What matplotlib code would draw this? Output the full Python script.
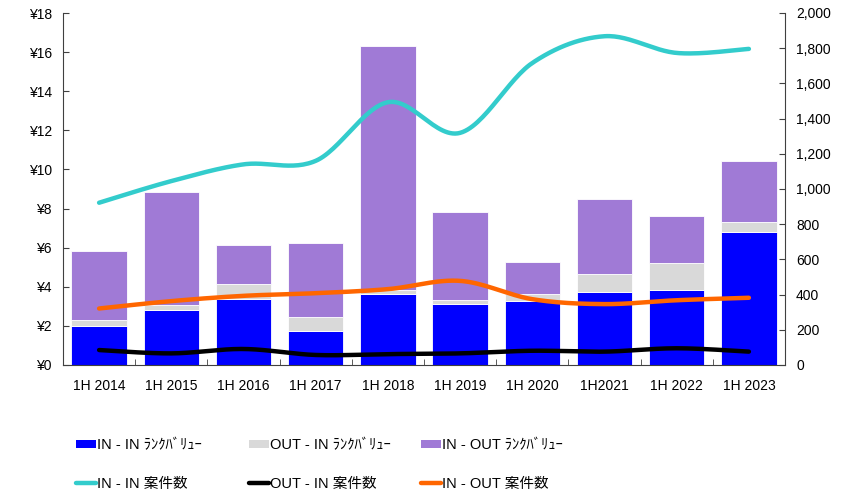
import matplotlib
matplotlib.use("Agg")
import matplotlib.pyplot as plt
import numpy as np
from matplotlib.patches import Patch
from matplotlib.lines import Line2D
from matplotlib.ticker import FuncFormatter, FixedLocator

plt.rcParams['font.family'] = ['Liberation Sans', 'Noto Sans CJK JP', 'DejaVu Sans']

categories = ["1H 2014", "1H 2015", "1H 2016", "1H 2017", "1H 2018",
              "1H 2019", "1H 2020", "1H2021", "1H 2022", "1H 2023"]
in_in_value = [1.97, 2.82, 3.40, 1.72, 3.64, 3.13, 3.28, 3.71, 3.86, 6.81]
out_in_value = [0.34, 0.24, 0.73, 0.73, 0.19, 0.17, 0.33, 0.93, 1.38, 0.49]
in_out_value = [3.53, 5.80, 1.99, 3.81, 12.49, 4.54, 1.65, 3.87, 2.40, 3.15]
in_in_count = [922, 1045, 1140, 1160, 1493, 1319, 1716, 1868, 1773, 1796]
out_in_count = [85, 66, 91, 57, 62, 66, 81, 76, 95, 76]
in_out_count = [321, 363, 393, 408, 431, 478, 374, 346, 368, 382]

labels = ["IN - IN ﾗﾝｸﾊﾞﾘｭｰ", "OUT - IN ﾗﾝｸﾊﾞﾘｭｰ", "IN - OUT ﾗﾝｸﾊﾞﾘｭｰ",
          "IN - IN 案件数", "OUT - IN 案件数", "IN - OUT 案件数"]

c_blue, c_gray, c_purple = "#0000FF", "#D9D9D9", "#A07AD6"
c_cyan, c_black, c_orange = "#33CCCC", "#000000", "#FF6600"


def smooth(xs, ys, n=30):
    xs = np.asarray(xs, float); ys = np.asarray(ys, float)
    px = np.concatenate([[xs[0]], xs, [xs[-1]]])
    py = np.concatenate([[ys[0]], ys, [ys[-1]]])
    ox, oy = [], []
    for i in range(1, len(px) - 2):
        p0, p1, p2, p3 = (np.array([px[j], py[j]]) for j in (i - 1, i, i + 1, i + 2))
        c1 = p1 + (p2 - p0) / 6
        c2 = p2 - (p3 - p1) / 6
        t = np.linspace(0, 1, n)[:, None]
        pts = ((1 - t) ** 3) * p1 + 3 * ((1 - t) ** 2) * t * c1 + 3 * (1 - t) * t ** 2 * c2 + t ** 3 * p2
        ox.extend(pts[:, 0]); oy.extend(pts[:, 1])
    return np.array(ox), np.array(oy)


fig = plt.figure(figsize=(8.5, 4.95), dpi=100)
ax = fig.add_axes([63 / 850, 1 - 365 / 495, (785 - 63) / 850, (365 - 13) / 495])
x = np.arange(len(categories))
w = 0.77
b1 = np.array(in_in_value)
b2 = b1 + np.array(out_in_value)
ax.bar(x, in_in_value, w, color=c_blue, edgecolor="white", linewidth=0.6)
ax.bar(x, out_in_value, w, bottom=b1, color=c_gray, edgecolor="white", linewidth=0.6)
ax.bar(x, in_out_value, w, bottom=b2, color=c_purple, edgecolor="white", linewidth=0.6)

ax.set_xlim(-0.5, len(categories) - 0.5)
ax.set_ylim(0, 18)
ax.set_yticks(np.arange(0, 19, 2))
ax.yaxis.set_major_formatter(FuncFormatter(lambda v, p: f"¥{int(v)}"))
ax.set_xticks(x)
ax.set_xticklabels(categories)
ax.xaxis.set_minor_locator(FixedLocator(np.arange(0.5, len(categories) - 0.5, 1)))
ax.tick_params(axis="x", which="major", length=0, pad=10, labelsize=10)
ax.tick_params(axis="x", which="minor", length=4, direction="in", color="#404040")
ax.tick_params(axis="y", length=4, direction="in", color="#404040", labelsize=10, pad=8)
for s in ["top", "right"]:
    ax.spines[s].set_visible(False)
for s in ["left", "bottom"]:
    ax.spines[s].set_color("#404040")

ax2 = ax.twinx()
ax2.set_ylim(0, 2000)
ax2.set_yticks(np.arange(0, 2001, 200))
ax2.yaxis.set_major_formatter(FuncFormatter(lambda v, p: f"{int(v):,}"))
ax2.tick_params(axis="y", length=4, direction="in", color="#404040", labelsize=10, pad=8)
for s in ["top", "left", "bottom"]:
    ax2.spines[s].set_visible(False)
ax2.spines["right"].set_color("#404040")

for ys, col in [(in_in_count, c_cyan), (out_in_count, c_black), (in_out_count, c_orange)]:
    sx, sy = smooth(x, ys)
    ax2.plot(sx, sy, color=col, linewidth=3.2, solid_capstyle="round", solid_joinstyle="round")

handles = [Patch(facecolor=c_blue), Patch(facecolor=c_gray), Patch(facecolor=c_purple),
           Line2D([], [], color=c_cyan, linewidth=3.2, solid_capstyle="round"),
           Line2D([], [], color=c_black, linewidth=3.2, solid_capstyle="round"),
           Line2D([], [], color=c_orange, linewidth=3.2, solid_capstyle="round")]
pos = [(76, 445), (249, 445), (421, 445), (76, 484), (249, 484), (421, 484)]
for h, lab, (px_, py_) in zip(handles, labels, pos):
    fig.legend([h], [lab], loc="center left", bbox_to_anchor=(px_ / 850, 1 - py_ / 495),
               frameon=False, handlelength=1.4, handleheight=0.5, handletextpad=0.05,
               borderaxespad=0, borderpad=0, fontsize=10.5)

fig.savefig("out.png", dpi=100)
